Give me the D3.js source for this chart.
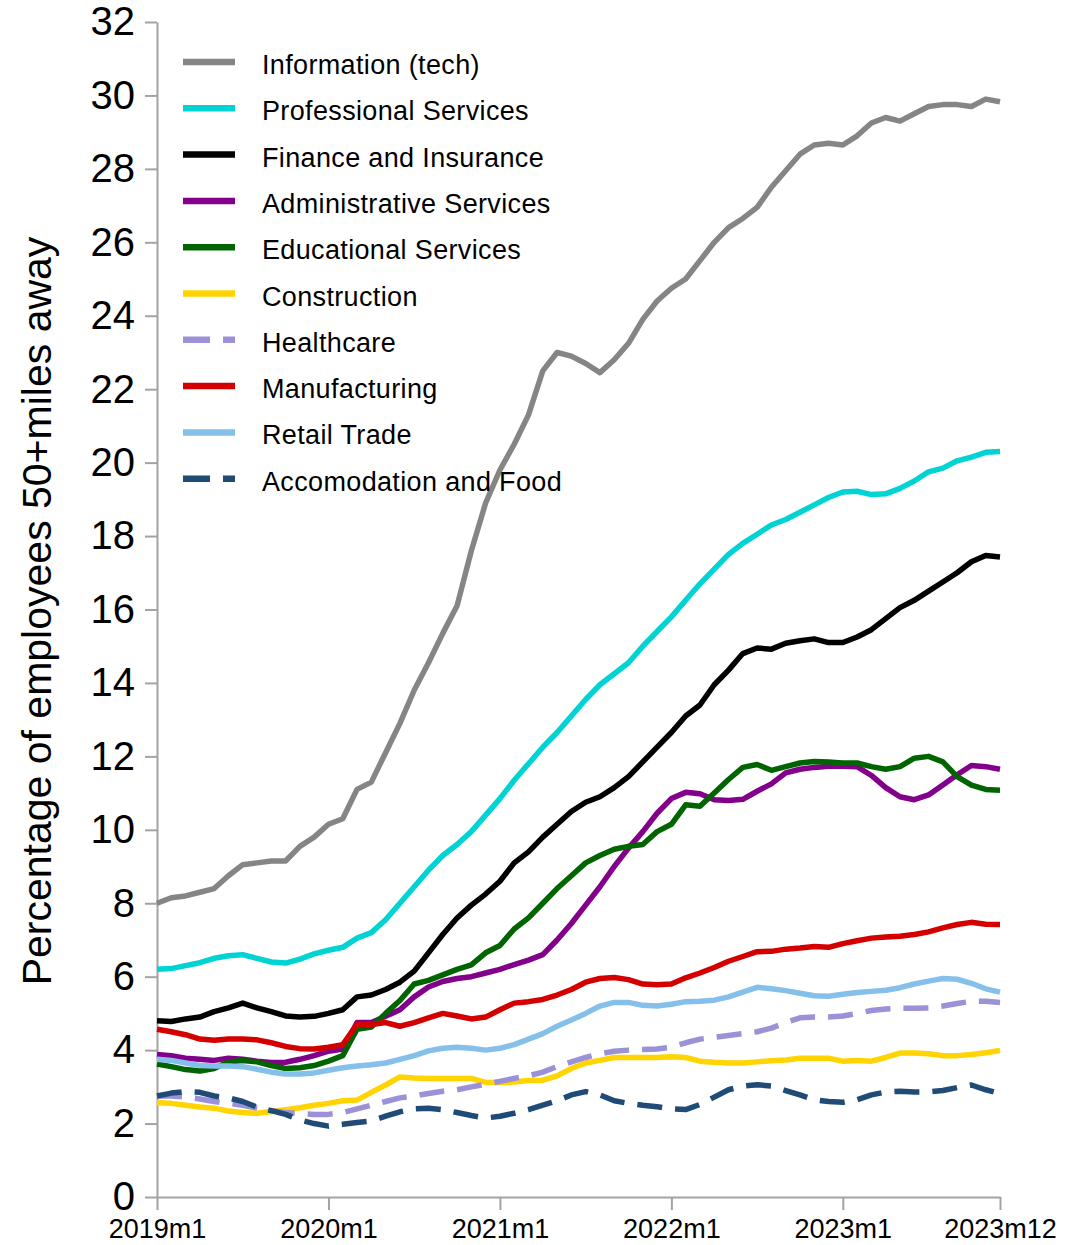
<!DOCTYPE html>
<html>
<head>
<meta charset="utf-8">
<script src="https://cdn.jsdelivr.net/npm/d3@7"></script>
<style>
  body { margin: 0; background: #fff; }
  svg { display: block; font-family: "Liberation Sans", Arial, Helvetica, sans-serif; }
  .axis path, .axis line { stroke: #a3a3a3; stroke-width: 2; }
  .axis text { fill: #000; }
</style>
</head>
<body>
<div id="chart"></div>
<script>
// month labels 2019m1 .. 2023m12
const months = [];
[2019, 2020, 2021, 2022, 2023].forEach(yr => d3.range(1, 13).forEach(m => months.push(`${yr}m${m}`)));
const xTicks = ['2019m1', '2020m1', '2021m1', '2022m1', '2023m1', '2023m12'];
const yTicks = d3.range(0, 33, 2);

const seriesNames = ['Information (tech)', 'Professional Services', 'Finance and Insurance',
  'Administrative Services', 'Educational Services', 'Construction', 'Healthcare',
  'Manufacturing', 'Retail Trade', 'Accomodation and Food'];
const seriesColors = ['#858585', '#00d3d3', '#000000', '#83008a', '#006400', '#ffd400',
  '#9a91d6', '#d40000', '#85c0ea', '#1f4b76'];
const seriesDashed = [false, false, false, false, false, false, true, false, false, true];

const information = [8.0, 8.15, 8.2, 8.3, 8.4, 8.75, 9.05, 9.1, 9.15, 9.15, 9.55, 9.8,
  10.15, 10.3, 11.1, 11.3, 12.1, 12.9, 13.8, 14.55, 15.35, 16.1, 17.6, 18.9,
  19.8, 20.5, 21.3, 22.5, 23.0, 22.9, 22.7, 22.45, 22.8, 23.25, 23.9, 24.4,
  24.75, 25.0, 25.5, 26.0, 26.4, 26.65, 26.95, 27.5, 27.95, 28.4, 28.65, 28.7,
  28.65, 28.9, 29.25, 29.4, 29.3, 29.5, 29.7, 29.75, 29.75, 29.7, 29.9, 29.83];
const professional = [6.2, 6.22, 6.3, 6.38, 6.5, 6.57, 6.6, 6.5, 6.4, 6.37, 6.48, 6.62,
  6.72, 6.8, 7.05, 7.2, 7.55, 8.0, 8.45, 8.9, 9.3, 9.6, 9.95, 10.4,
  10.85, 11.35, 11.8, 12.25, 12.65, 13.1, 13.55, 13.95, 14.25, 14.55, 15.0, 15.4,
  15.8, 16.25, 16.7, 17.1, 17.5, 17.8, 18.05, 18.3, 18.45, 18.65, 18.85, 19.05,
  19.2, 19.22, 19.13, 19.15, 19.3, 19.5, 19.75, 19.85, 20.05, 20.15, 20.28, 20.3];
const finance = [4.8, 4.78, 4.85, 4.9, 5.05, 5.15, 5.28, 5.15, 5.05, 4.93, 4.9, 4.92,
  5.0, 5.1, 5.45, 5.5, 5.65, 5.85, 6.15, 6.65, 7.15, 7.6, 7.95, 8.25,
  8.6, 9.1, 9.4, 9.8, 10.15, 10.5, 10.75, 10.9, 11.15, 11.45, 11.85, 12.25,
  12.65, 13.1, 13.4, 13.95, 14.35, 14.8, 14.95, 14.92, 15.08, 15.15, 15.2, 15.1,
  15.1, 15.25, 15.45, 15.75, 16.05, 16.25, 16.5, 16.75, 17.0, 17.3, 17.47, 17.43];
const administrative = [3.88, 3.85, 3.78, 3.75, 3.72, 3.78, 3.75, 3.7, 3.66, 3.67, 3.75, 3.85,
  3.97, 4.03, 4.75, 4.75, 4.92, 5.1, 5.45, 5.72, 5.87, 5.95, 6.0, 6.1,
  6.2, 6.33, 6.45, 6.6, 7.0, 7.45, 7.95, 8.45, 9.0, 9.5, 9.95, 10.45,
  10.85, 11.02, 10.98, 10.82, 10.8, 10.83, 11.05, 11.25, 11.55, 11.65, 11.7, 11.73,
  11.73, 11.72, 11.48, 11.15, 10.9, 10.82, 10.95, 11.22, 11.5, 11.75, 11.72, 11.65];
const educational = [3.62, 3.55, 3.47, 3.43, 3.5, 3.68, 3.72, 3.68, 3.58, 3.5, 3.52, 3.58,
  3.7, 3.85, 4.57, 4.63, 5.0, 5.35, 5.8, 5.9, 6.05, 6.2, 6.32, 6.65,
  6.85, 7.3, 7.6, 8.0, 8.4, 8.75, 9.1, 9.3, 9.47, 9.55, 9.6, 9.95,
  10.15, 10.68, 10.64, 11.0, 11.37, 11.7, 11.78, 11.62, 11.72, 11.82, 11.86, 11.85,
  11.82, 11.82, 11.72, 11.65, 11.72, 11.95, 12.0, 11.85, 11.45, 11.22, 11.1, 11.08];
const construction = [2.57, 2.55, 2.5, 2.45, 2.42, 2.34, 2.3, 2.28, 2.33, 2.38, 2.43, 2.5,
  2.55, 2.62, 2.64, 2.85, 3.05, 3.27, 3.24, 3.23, 3.23, 3.23, 3.23, 3.12,
  3.12, 3.13, 3.17, 3.18, 3.3, 3.5, 3.65, 3.72, 3.8, 3.8, 3.8, 3.8,
  3.82, 3.8, 3.7, 3.67, 3.65, 3.65, 3.68, 3.71, 3.73, 3.78, 3.78, 3.78,
  3.7, 3.72, 3.7, 3.8, 3.92, 3.92, 3.9, 3.85, 3.85, 3.88, 3.93, 3.99];
const healthcare = [2.75, 2.75, 2.72, 2.67, 2.6, 2.55, 2.5, 2.42, 2.35, 2.3, 2.27, 2.25,
  2.25, 2.3, 2.4, 2.5, 2.6, 2.7, 2.75, 2.82, 2.88, 2.92, 3.0, 3.07,
  3.15, 3.23, 3.3, 3.4, 3.55, 3.68, 3.8, 3.9, 3.97, 4.0, 4.02, 4.03,
  4.08, 4.2, 4.3, 4.35, 4.4, 4.45, 4.5, 4.6, 4.75, 4.88, 4.9, 4.9,
  4.93, 5.0, 5.08, 5.12, 5.14, 5.14, 5.15, 5.2, 5.27, 5.33, 5.33, 5.3];
const manufacturing = [4.57, 4.5, 4.42, 4.3, 4.27, 4.3, 4.3, 4.28, 4.2, 4.1, 4.04, 4.03,
  4.08, 4.15, 4.7, 4.7, 4.75, 4.65, 4.75, 4.88, 5.0, 4.93, 4.85, 4.9,
  5.1, 5.28, 5.32, 5.38, 5.5, 5.65, 5.85, 5.95, 5.98, 5.92, 5.8, 5.78,
  5.8, 5.97, 6.1, 6.25, 6.42, 6.55, 6.68, 6.69, 6.75, 6.78, 6.82, 6.8,
  6.9, 6.98, 7.05, 7.08, 7.1, 7.15, 7.22, 7.33, 7.42, 7.48, 7.43, 7.42];
const retail = [3.75, 3.72, 3.65, 3.58, 3.57, 3.57, 3.55, 3.48, 3.4, 3.35, 3.35, 3.38,
  3.45, 3.52, 3.57, 3.6, 3.65, 3.75, 3.85, 3.98, 4.05, 4.08, 4.05, 4.0,
  4.05, 4.15, 4.3, 4.45, 4.65, 4.82, 5.0, 5.2, 5.3, 5.3, 5.22, 5.2,
  5.25, 5.32, 5.33, 5.36, 5.45, 5.58, 5.71, 5.67, 5.62, 5.55, 5.48, 5.47,
  5.52, 5.57, 5.6, 5.63, 5.7, 5.8, 5.88, 5.95, 5.93, 5.82, 5.67, 5.58];
const accommodation = [2.75, 2.83, 2.87, 2.85, 2.75, 2.7, 2.6, 2.45, 2.35, 2.25, 2.1, 2.0,
  1.93, 1.98, 2.03, 2.07, 2.2, 2.32, 2.4, 2.42, 2.38, 2.3, 2.22, 2.15,
  2.2, 2.28, 2.38, 2.5, 2.62, 2.78, 2.87, 2.78, 2.62, 2.55, 2.5, 2.46,
  2.4, 2.38, 2.52, 2.72, 2.92, 3.02, 3.06, 3.02, 2.9, 2.78, 2.65, 2.6,
  2.58, 2.65, 2.78, 2.86, 2.88, 2.86, 2.86, 2.9, 2.98, 3.05, 2.92, 2.82];

const seriesValues = [information, professional, finance, administrative, educational,
  construction, healthcare, manufacturing, retail, accommodation];

const width = 1066, height = 1245;
const margin = { top: 22, right: 66, bottom: 48, left: 157 };

const svg = d3.select('#chart').append('svg')
  .attr('width', width)
  .attr('height', height);

const x = d3.scalePoint().domain(months).range([margin.left, width - margin.right]);
const y = d3.scaleLinear().domain([0, 32]).range([height - margin.bottom, margin.top]);

// axes
svg.append('g')
  .attr('class', 'axis')
  .attr('transform', `translate(${margin.left},0)`)
  .call(d3.axisLeft(y).tickValues(yTicks).tickSize(12).tickSizeOuter(0).tickPadding(10))
  .call(g => g.selectAll('text').style('font-size', '40px'));

svg.append('g')
  .attr('class', 'axis')
  .attr('transform', `translate(0,${height - margin.bottom})`)
  .call(d3.axisBottom(x).tickValues(xTicks).tickSize(13).tickSizeOuter(0).tickPadding(9))
  .call(g => g.selectAll('text').style('font-size', '27px'));

// lines
const line = d3.line()
  .x((d, i) => x(months[i]))
  .y(d => y(d));

svg.append('g').selectAll('path')
  .data(seriesValues)
  .enter()
  .append('path')
  .attr('d', d => line(d))
  .attr('fill', 'none')
  .attr('stroke', (d, i) => seriesColors[i])
  .attr('stroke-width', 5.5)
  .attr('stroke-linejoin', 'round')
  .attr('stroke-dasharray', (d, i) => seriesDashed[i] ? '25,13' : null);

// legend
const legend = svg.append('g').attr('transform', 'translate(183,62)');
const rows = legend.selectAll('g')
  .data(seriesNames)
  .enter()
  .append('g')
  .attr('transform', (d, i) => `translate(0,${i * 46.3})`);
rows.append('line')
  .attr('x1', 0).attr('x2', 52)
  .attr('stroke', (d, i) => seriesColors[i])
  .attr('stroke-width', 6.5)
  .attr('stroke-dasharray', (d, i) => seriesDashed[i] ? '27,13' : null);
rows.append('text')
  .attr('x', 79)
  .attr('y', 12)
  .style('font-size', '27px')
  .style('letter-spacing', '0.35px')
  .text(d => d);

// y title
svg.append('text')
  .attr('transform', 'translate(51,611) rotate(-90)')
  .attr('text-anchor', 'middle')
  .style('font-size', '41px')
  .text('Percentage of employees 50+miles away');
</script>
</body>
</html>
